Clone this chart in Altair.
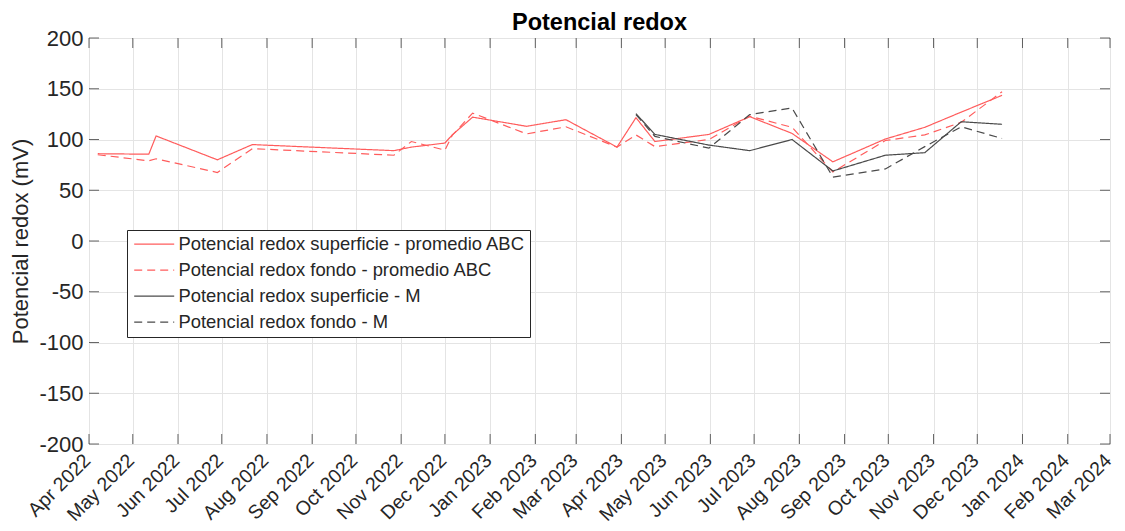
import altair as alt
import pandas as pd

# ---- data ----
fechas_abc = ["2022-04-07", "2022-05-12", "2022-05-17", "2022-06-28", "2022-07-22",
              "2022-10-27", "2022-11-08", "2022-12-01", "2022-12-06", "2022-12-20",
              "2023-01-26", "2023-02-22", "2023-03-29", "2023-04-11", "2023-04-24",
              "2023-05-31", "2023-06-28", "2023-07-27", "2023-08-24", "2023-09-29",
              "2023-10-26", "2023-11-20", "2023-12-18"]
sup_abc = [86, 85.5, 103.5, 80, 95, 89, 92.5, 96.5, 104.5, 122, 113, 119.5, 92.5,
           121.5, 98, 105, 122.5, 106, 78, 100.5, 112, 127, 143.5]
fondo_abc = [85, 79, 81, 67.5, 91, 84.5, 98, 89.5, 104, 126, 105.5, 112.5, 92.5,
             104.5, 93, 100, 123, 112, 68, 99, 104.5, 117, 147]

fechas_m = ["2023-04-11", "2023-04-24", "2023-05-31", "2023-06-28", "2023-07-27",
            "2023-08-24", "2023-09-29", "2023-10-26", "2023-11-20", "2023-12-18"]
sup_m = [125.5, 105, 94.5, 89, 100, 69, 84.5, 87, 117.5, 115]
fondo_m = [124.5, 103, 91.5, 124.5, 131, 63, 71, 93, 112.5, 101]

series = ["Potencial redox superficie - promedio ABC",
          "Potencial redox fondo - promedio ABC",
          "Potencial redox superficie - M",
          "Potencial redox fondo - M"]
colores = ["#ff5c5c", "#ff5c5c", "#4a4a4a", "#4a4a4a"]
trazos = [[1, 0], [8, 5], [1, 0], [8, 5]]

meses = [(2022, m) for m in range(4, 13)] + [(2023, m) for m in range(1, 13)] + [(2024, m) for m in range(1, 4)]
y_ticks = [-200, -150, -100, -50, 0, 50, 100, 150, 200]

rows = []
for fechas, vals, s in [(fechas_abc, sup_abc, series[0]), (fechas_abc, fondo_abc, series[1]),
                        (fechas_m, sup_m, series[2]), (fechas_m, fondo_m, series[3])]:
    for f, v in zip(fechas, vals):
        rows.append({"fecha": f + "T00:00:00", "valor": v, "serie": s})
df = pd.DataFrame(rows)

mes_dt = [alt.DateTime(year=y, month=m, date=1) for y, m in meses]
df_meses = pd.DataFrame({"fecha": [f"{y}-{m:02d}-01T00:00:00" for y, m in meses]})
df_y = pd.DataFrame({"valor": y_ticks})

FONT = "Liberation Sans"
TXT = "#262626"

x_scale = alt.Scale(domain=[alt.DateTime(year=2022, month=4, date=1),
                            alt.DateTime(year=2024, month=3, date=1)])
y_scale = alt.Scale(domain=[-200, 200], nice=False)

# legend symbol: a ~45px horizontal line drawn as a custom path
leg = alt.Legend(title=None, orient="none", legendX=38, legendY=192,
                 symbolType="M-4,0H4", symbolSize=100, symbolStrokeWidth=1.2,
                 symbolOffset=13, labelOffset=15,
                 labelFontSize=18.4, labelFont=FONT, labelColor=TXT, labelLimit=0,
                 rowPadding=7, padding=5,
                 strokeColor=TXT, fillColor="white")

lines = alt.Chart(df).mark_line(strokeWidth=1.2, clip=True).encode(
    x=alt.X("fecha:T", scale=x_scale,
            axis=alt.Axis(values=mes_dt, format="%b %Y", labelAngle=-45,
                          labelAlign="right", labelBaseline="middle",
                          labelFontSize=19.5, labelFont=FONT, labelColor=TXT,
                          labelPadding=13, labelOffset=-2, tickSize=0, domain=False,
                          grid=True, gridColor="#e4e4e4", title=None,
                          labelOverlap=False)),
    y=alt.Y("valor:Q", scale=y_scale,
            axis=alt.Axis(values=y_ticks, labelFontSize=22, labelFont=FONT,
                          labelExpr="datum.value + ''",
                          labelColor=TXT, labelPadding=6, tickSize=0, domain=False,
                          grid=True, gridColor="#e4e4e4",
                          title="Potencial redox (mV)", titleFontSize=22,
                          titleFont=FONT, titleFontWeight="normal",
                          titleColor=TXT, titlePadding=6)),
    color=alt.Color("serie:N", scale=alt.Scale(domain=series, range=colores), legend=leg),
    strokeDash=alt.StrokeDash("serie:N", scale=alt.Scale(domain=series, range=trazos), legend=leg),
    order=alt.Order("fecha:T"),
)

tick_kw = dict(color=TXT, thickness=1, size=10)
t_bottom = alt.Chart(df_meses).mark_tick(orient="vertical", yOffset=-5, **tick_kw).encode(
    x=alt.X("fecha:T", scale=x_scale), y=alt.YDatum(-200, scale=y_scale))
t_top = alt.Chart(df_meses).mark_tick(orient="vertical", yOffset=5, **tick_kw).encode(
    x=alt.X("fecha:T", scale=x_scale), y=alt.YDatum(200, scale=y_scale))
t_left = alt.Chart(df_y).mark_tick(orient="horizontal", xOffset=5, **tick_kw).encode(
    y=alt.Y("valor:Q", scale=y_scale),
    x=alt.XDatum(alt.DateTime(year=2022, month=4, date=1), type="temporal", scale=x_scale))
t_right = alt.Chart(df_y).mark_tick(orient="horizontal", xOffset=-5, **tick_kw).encode(
    y=alt.Y("valor:Q", scale=y_scale),
    x=alt.XDatum(alt.DateTime(year=2024, month=3, date=1), type="temporal", scale=x_scale))

chart = alt.layer(lines, t_bottom, t_top, t_left, t_right).properties(
    width=1021, height=406,
    title=alt.TitleParams("Potencial redox", fontSize=23.5, fontWeight="bold",
                          font=FONT, color="black", anchor="middle", offset=8, dy=15),
    autosize=alt.AutoSizeParams(type="none"),
    padding={"left": 81, "top": 30, "right": 6, "bottom": 85},
).configure_view(stroke=TXT, strokeWidth=1).configure(font=FONT, background="white")

chart.save("out.html", embed_options={"renderer": "svg", "actions": False})
